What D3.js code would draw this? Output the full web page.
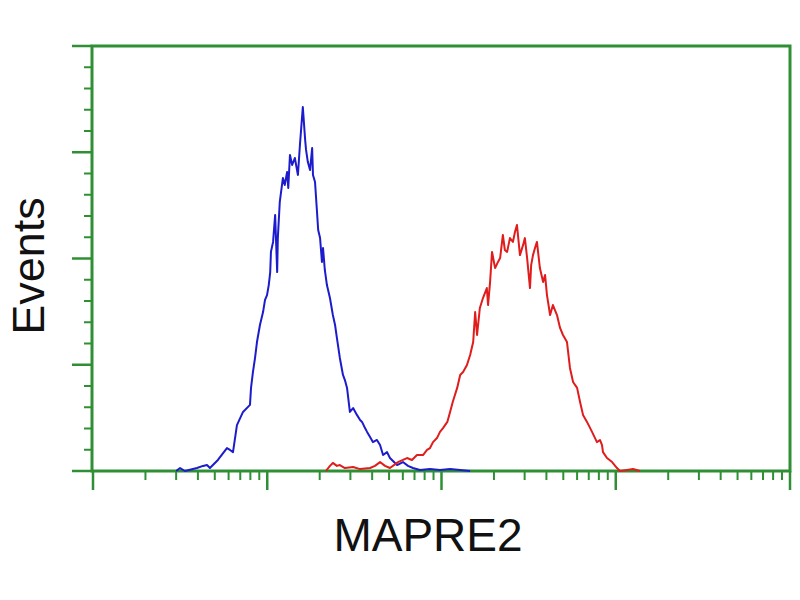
<!DOCTYPE html>
<html>
<head>
<meta charset="utf-8">
<script src="https://cdn.jsdelivr.net/npm/d3@7"></script>
<style>
  html, body { margin: 0; padding: 0; background: #ffffff; }
  svg { display: block; }
</style>
</head>
<body>
<svg id="chart" width="800" height="600"></svg>
<script>
// ---- data ----
const xLabel = "MAPRE2";
const yLabel = "Events";
const xMajorTicks = [1, 10, 100, 1000, 10000];
const xMinorMultipliers = [2, 3, 4, 5, 6, 7, 8, 9];
const yMajorTicks = [0, 50, 100, 150, 200];
const yMinorStep = 10;

// control (blue) histogram: fluorescence value, event count
const blueX = [3.0, 3.16, 3.37, 3.95, 4.28, 4.51, 4.69, 5.21, 5.87, 6.11, 6.36, 6.70, 7.26, 7.96, 8.07, 8.28, 8.51, 8.73, 9.08, 9.46, 9.71, 9.97, 10.2, 10.4, 10.5, 10.8, 11.1, 11.4, 11.5, 11.8, 12.3, 12.6, 13.0, 13.2, 13.5, 13.9, 14.4, 15.0, 15.4, 16.0, 16.5, 16.7, 17.1, 17.6, 18.1, 18.3, 18.8, 19.3, 19.6, 20.1, 20.6, 20.9, 21.4, 22.0, 22.9, 23.8, 24.5, 25.1, 26.1, 27.2, 27.9, 28.7, 29.8, 31.1, 32.7, 34.1, 35.0, 36.4, 37.4, 38.9, 40.4, 42.6, 44.4, 46.2, 48.7, 50.6, 53.4, 55.6, 60.1, 64.2, 68.6, 75.3, 85.9, 98.0, 112, 128, 146];
const blueY = [0, 1.4, 0, 1.4, 2.4, 2.8, 1.4, 5.2, 10.8, 9.9, 8.9, 21.6, 27.8, 31.1, 39.1, 46.6, 53.2, 60.7, 68.7, 74.8, 80.5, 82.8, 87.5, 93.6, 103.1, 107.8, 120.5, 93.6, 109.6, 126.6, 137.9, 134.6, 140.7, 133.2, 148.7, 144.0, 147.3, 139.3, 153.4, 171.3, 155.8, 151.1, 145.4, 141.6, 152.0, 139.3, 136.0, 121.9, 113.4, 109.6, 98.4, 104.9, 94.6, 87.5, 81.4, 73.4, 68.7, 62.6, 53.2, 45.2, 42.8, 39.1, 27.8, 29.6, 26.4, 24.0, 23.1, 20.2, 18.4, 16.0, 13.6, 14.6, 12.2, 7.5, 8.9, 6.1, 4.2, 2.8, 4.2, 2.4, 1.4, 0.5, 0.9, 0.5, 0.9, 0.5, 0];

// MAPRE2 (red) histogram
const redX = [21.7, 22.9, 23.8, 25.1, 26.1, 27.9, 31.1, 34.1, 38.9, 41.5, 44.4, 47.4, 50.6, 56.3, 60.1, 63.4, 67.7, 72.3, 78.3, 82.6, 85.9, 89.4, 94.2, 98.0, 102, 108, 112, 116, 123, 128, 133, 140, 146, 152, 156, 160, 166, 173, 182, 185, 190, 195, 203, 211, 217, 225, 231, 238, 247, 257, 264, 271, 282, 294, 301, 310, 322, 327, 335, 344, 353, 367, 383, 393, 403, 420, 436, 460, 479, 498, 525, 546, 569, 600, 624, 649, 684, 731, 780, 812, 834, 845, 891, 953, 1017, 1057, 1161, 1256, 1377];
const redY = [0, 2.4, 3.8, 2.4, 2.8, 1.4, 1.9, 0.9, 1.4, 2.4, 4.2, 2.4, 1.4, 4.2, 5.2, 6.1, 5.2, 7.5, 7.5, 9.9, 10.8, 13.6, 15.5, 18.4, 20.2, 23.1, 27.8, 32.5, 39.1, 45.2, 46.6, 49.9, 54.6, 60.7, 74.8, 64.0, 76.7, 81.4, 86.1, 78.1, 88.9, 103.1, 95.5, 98.4, 100.2, 111.1, 104.0, 103.1, 109.6, 107.8, 112.5, 115.8, 101.6, 106.4, 109.6, 100.2, 86.1, 96.9, 101.6, 104.9, 107.8, 95.5, 88.9, 92.2, 82.8, 73.4, 78.1, 73.4, 67.3, 64.0, 60.7, 48.5, 41.9, 39.1, 32.5, 26.4, 23.1, 18.4, 13.6, 14.6, 12.2, 8.9, 6.1, 4.2, 1.4, 0, 0.5, 0.9, 0];

// ---- drawing ----
(function () {
const svg = d3.select("#chart");
const green = "#2f8f35";
const mLeft = 92, mRight = 790, mTop = 46, mBottom = 471;

const x = d3.scaleLog().domain([1, 10000]).range([mLeft + 1, mRight]);
const y = d3.scaleLinear().domain([0, 200]).range([mBottom, mTop]);

svg.append("rect").attr("width", 800).attr("height", 600).attr("fill", "#ffffff");

// minor x ticks
const xMinor = [];
xMajorTicks.slice(0, -1).forEach(d => xMinorMultipliers.forEach(m => xMinor.push(d * m)));
svg.append("g").selectAll("line").data(xMinor).join("line")
  .attr("x1", d => x(d)).attr("x2", d => x(d))
  .attr("y1", mBottom).attr("y2", mBottom + 9)
  .attr("stroke", green).attr("stroke-width", 2);
svg.append("g").selectAll("line").data(xMajorTicks).join("line")
  .attr("x1", d => x(d)).attr("x2", d => x(d))
  .attr("y1", mBottom).attr("y2", mBottom + 19)
  .attr("stroke", green).attr("stroke-width", 2.5);

// y ticks
const yMinor = d3.range(0, 200 + 0.001, yMinorStep).filter(v => !yMajorTicks.includes(v));
svg.append("g").selectAll("line").data(yMinor).join("line")
  .attr("x1", mLeft - 8).attr("x2", mLeft)
  .attr("y1", d => y(d)).attr("y2", d => y(d))
  .attr("stroke", green).attr("stroke-width", 2);
svg.append("g").selectAll("line").data(yMajorTicks).join("line")
  .attr("x1", mLeft - 20).attr("x2", mLeft)
  .attr("y1", d => y(d)).attr("y2", d => y(d))
  .attr("stroke", green).attr("stroke-width", 2.5);

// frame
svg.append("rect")
  .attr("x", mLeft).attr("y", mTop)
  .attr("width", mRight - mLeft).attr("height", mBottom - mTop)
  .attr("fill", "none").attr("stroke", green).attr("stroke-width", 3);

// curves
const line = d3.line().x(d => x(d[0])).y(d => y(d[1]));
svg.append("path").datum(d3.zip(blueX, blueY))
  .attr("d", line).attr("fill", "none")
  .attr("stroke", "#1c1ccc").attr("stroke-width", 2).attr("stroke-linejoin", "round");
svg.append("path").datum(d3.zip(redX, redY))
  .attr("d", line).attr("fill", "none")
  .attr("stroke", "#e01c1c").attr("stroke-width", 2).attr("stroke-linejoin", "round");

// labels
svg.append("text")
  .attr("x", 428).attr("y", 551)
  .attr("text-anchor", "middle")
  .attr("font-family", "Liberation Sans, Arial, sans-serif")
  .attr("font-size", 46)
  .attr("fill", "#111")
  .text(xLabel);
svg.append("text")
  .attr("transform", "translate(44,266) rotate(-90)")
  .attr("text-anchor", "middle")
  .attr("font-family", "Liberation Sans, Arial, sans-serif")
  .attr("font-size", 45)
  .attr("fill", "#111")
  .text(yLabel);
})();
</script>
</body>
</html>
